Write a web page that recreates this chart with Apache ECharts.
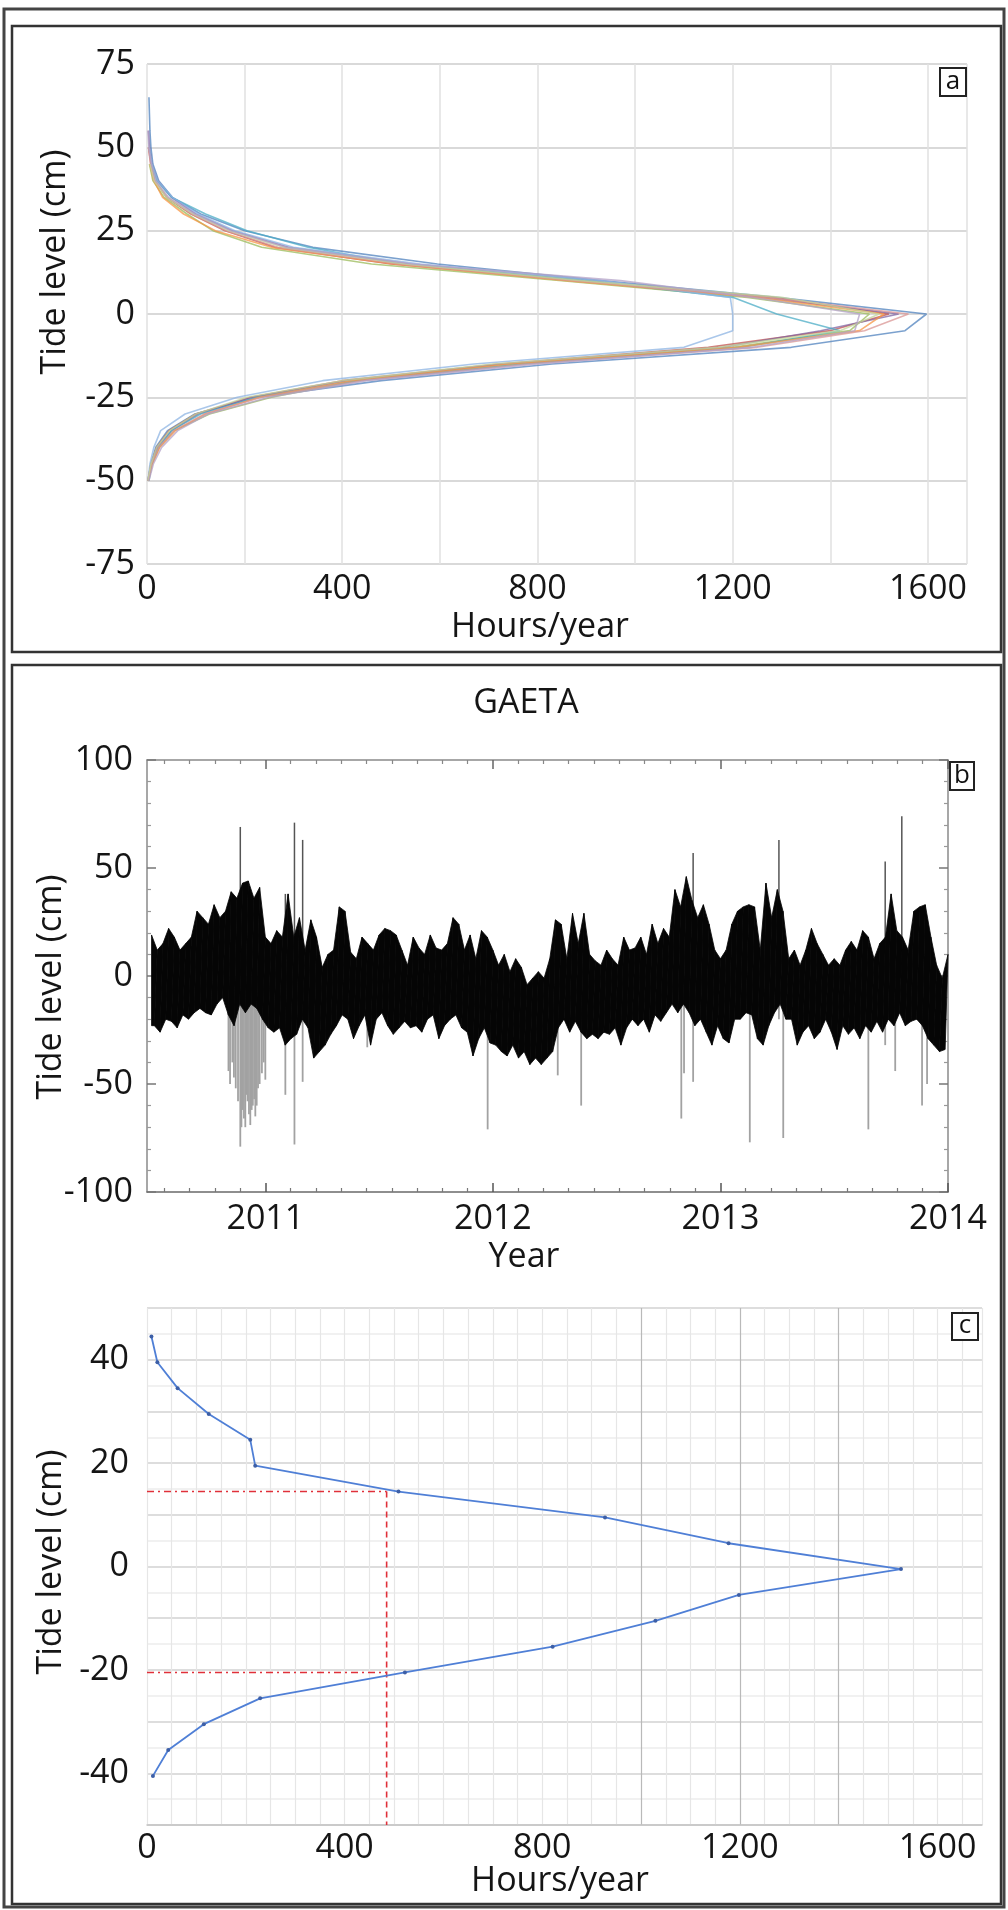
<!DOCTYPE html>
<html><head><meta charset="utf-8">
<script src="https://cdn.jsdelivr.net/npm/echarts@6/dist/echarts.min.js"></script>
<style>html,body{margin:0;padding:0;background:#fff}#c{width:1008px;height:1910px}</style>
</head><body><div id="c"></div>
<script>
// ---------------- Panel a : hours/year per 5-cm tide bin, one curve per year ----------------
const aLevels = [65,60,55,50,45,40,35,30,25,20,15,10,5,0,-5,-10,-15,-20,-25,-30,-35,-40,-45,-50];
const aS1  = [4,5,6,8,12,24,52,110,200,340,595,930,1290,1597,1553,1320,830,480,225,98,42,18,8,2];
const aS2  = [null,null,null,3,8,16,40,90,160,262,500,880,1280,1520,1400,1150,720,400,212,100,45,20,8,2];
const aS3  = [null,null,null,null,5,12,35,82,135,235,460,850,1230,1480,1440,1200,760,430,255,128,55,25,10,null];
const aS4  = [null,null,3,5,10,22,50,100,175,290,540,900,1260,1540,1380,1180,730,410,215,105,50,22,9,3];
const aS5  = [null,null,null,4,9,20,50,120,205,330,520,900,1200,1290,1420,1220,770,430,225,110,50,24,10,4];
const aS6  = [null,null,null,null,6,14,32,75,140,255,505,860,1250,1510,1460,1210,740,420,230,120,58,26,11,3];
const aS7  = [null,null,null,4,10,22,52,105,180,300,560,930,1195,1200,1200,1100,670,360,185,78,28,14,6,2];
const aS8  = [null,null,null,3,7,15,42,92,162,268,515,870,1270,1560,1470,1250,780,440,235,118,55,24,9,2];
const aS9  = [null,null,null,null,6,15,40,95,168,280,530,890,1300,1500,1420,1170,710,400,205,100,46,20,8,2];
const aS10 = [null,null,2,4,9,18,44,98,172,285,545,970,1240,1460,1450,1240,800,450,250,125,63,30,13,4];
const aSeries = [aS1,aS2,aS3,aS4,aS5,aS6,aS7,aS8,aS9,aS10];
const aColors = ['#4F81BD','#C0504D','#9BBB59','#8064A2','#4BACC6','#F79646','#8EB4E3','#D99694','#C3D69B','#B3A2C7'];
const aXLabels = [0,400,800,1200,1600];
const aYLabels = [-75,-50,-25,0,25,50,75];

// ---------------- Panel b : GAETA hourly tide record (envelope read per 0.025 yr) ----------------
const bTime = [2010.500,2010.525,2010.550,2010.575,2010.600,2010.625,2010.650,2010.675,2010.700,2010.725,2010.750,2010.775,2010.800,2010.825,2010.850,2010.875,2010.900,2010.925,2010.950,2010.975,
2011.000,2011.025,2011.050,2011.075,2011.100,2011.125,2011.150,2011.175,2011.200,2011.225,2011.250,2011.275,2011.300,2011.325,2011.350,2011.375,2011.400,2011.425,2011.450,2011.475,
2011.500,2011.525,2011.550,2011.575,2011.600,2011.625,2011.650,2011.675,2011.700,2011.725,2011.750,2011.775,2011.800,2011.825,2011.850,2011.875,2011.900,2011.925,2011.950,2011.975,
2012.000,2012.025,2012.050,2012.075,2012.100,2012.125,2012.150,2012.175,2012.200,2012.225,2012.250,2012.275,2012.300,2012.325,2012.350,2012.375,2012.400,2012.425,2012.450,2012.475,
2012.500,2012.525,2012.550,2012.575,2012.600,2012.625,2012.650,2012.675,2012.700,2012.725,2012.750,2012.775,2012.800,2012.825,2012.850,2012.875,2012.900,2012.925,2012.950,2012.975,
2013.000,2013.025,2013.050,2013.075,2013.100,2013.125,2013.150,2013.175,2013.200,2013.225,2013.250,2013.275,2013.300,2013.325,2013.350,2013.375,2013.400,2013.425,2013.450,2013.475,
2013.500,2013.525,2013.550,2013.575,2013.600,2013.625,2013.650,2013.675,2013.700,2013.725,2013.750,2013.775,2013.800,2013.825,2013.850,2013.875,2013.900,2013.925,2013.950,2013.975,
2014.000];
const bHigh = [19,12,15,22,18,12,15,18,30,27,24,33,27,30,39,36,43,44,36,41,
18,15,21,18,38,18,27,12,26,18,4,10,12,32,30,11,8,18,15,12,
19,22,21,19,12,5,18,13,10,19,13,12,15,27,24,12,19,8,21,18,
12,5,10,2,8,4,-4,-1,2,-1,8,26,24,8,29,15,29,10,7,5,
12,8,5,18,12,13,18,10,24,15,22,18,40,32,46,35,27,33,24,12,
8,12,24,30,32,33,32,12,43,27,40,30,8,12,5,12,22,15,10,5,
8,5,12,16,12,21,18,8,15,18,38,21,18,12,30,32,33,18,5,-1,
10];
const bLow = [-23,-26,-20,-21,-24,-18,-20,-17,-15,-17,-18,-13,-10,-18,-23,-13,-17,-13,-15,-20,
-24,-26,-24,-32,-29,-27,-20,-24,-38,-35,-32,-27,-23,-18,-20,-29,-23,-18,-32,-20,
-17,-23,-27,-24,-21,-24,-23,-26,-20,-18,-29,-23,-20,-18,-24,-26,-37,-29,-24,-31,
-32,-35,-37,-32,-38,-35,-41,-38,-41,-38,-35,-24,-20,-26,-21,-26,-29,-27,-29,-26,
-27,-24,-32,-24,-20,-23,-20,-26,-18,-21,-17,-13,-17,-13,-17,-23,-20,-26,-32,-23,
-29,-31,-20,-20,-17,-18,-29,-32,-23,-17,-13,-20,-20,-32,-26,-23,-29,-26,-20,-26,
-34,-23,-27,-24,-29,-23,-26,-21,-26,-20,-23,-17,-23,-21,-20,-23,-29,-32,-35,-34,
-26];
// isolated surge / spike records
const gTime = [2010.838,2010.845,2010.855,2010.862,2010.870,2010.880,2010.890,2010.895,2010.900,2010.906,2010.912,2010.917,2010.922,2010.928,2010.934,2010.940,2010.945,2010.951,2010.956,2010.962,2010.968,2010.975,2010.985,2010.993,2011.000,2011.088,2011.128,2011.164,2011.448,2011.977,2012.285,2012.388,2012.828,2012.840,2012.880,2013.129,2013.257,2013.276,2013.650,2013.724,2013.768,2013.797,2013.886,2013.908];
const gLow  = [-44,-50,-40,-47,-52,-58,-79,-70,-62,-66,-70,-55,-58,-64,-69,-62,-60,-57,-65,-60,-52,-50,-45,-40,-48,-55,-78,-49,-33,-71,-46,-60,-66,-45,-49,-77,-20,-75,-71,-32,-44,0,-60,-50];
const gHigh = [0,0,0,0,0,0,69,0,0,0,0,0,0,0,0,0,0,0,0,0,0,0,0,0,0,38,71,63,0,0,0,0,0,0,57,0,63,0,0,53,0,74,0,0];
const bXLabels = [2011,2012,2013,2014];
const bYLabels = [-100,-50,0,50,100];

// ---------------- Panel c : GAETA hours/year per 5-cm bin ----------------
const cLevels = [44.5,39.5,34.5,29.5,24.5,19.5,14.5,9.5,4.5,-0.5,-5.5,-10.5,-15.5,-20.5,-25.5,-30.5,-35.5,-40.5];
const cHours  = [9,21,62,125,209,219,509,927,1177,1526,1198,1029,821,522,229,115,43,12];
const cRefHours = 485;
const cRefHigh = 14.5;
const cRefLow = -20.5;
const cXLabels = [0,400,800,1200,1600];
const cYLabels = [-40,-20,0,20,40];

// ---------------- chart ----------------
const FONT = 'Open Sans';
const FS = 34;
const TXT = '#151515';
const chart = echarts.init(document.getElementById('c'), null, {renderer:'canvas'});

const lab = (arr) => (v) => (arr.indexOf(Math.round(v*1000)/1000) >= 0 ? String(v) : '');

// minor tick positions (styling only) for the year axis
const yearMinor = [];
for (let y = 2010; y < 2014; y++) for (let n = 1; n < 9; n++) { const v = y + n/9; if (v > 2010.48) yearMinor.push(+v.toFixed(4)); }

const cVColors = [];
for (let v = 0; v <= 1650; v += 50) cVColors.push((v===1000||v===1200||v===1400) ? '#b9b9b9' : '#e6e6e6');
cVColors.push('#e6e6e6');

const series = [];
aSeries.forEach((arr, i) => {
  const d = [];
  arr.forEach((h, j) => { if (h !== null) d.push([h, aLevels[j]]); });
  series.push({type:'line', name:'a'+(i+1), xAxisIndex:0, yAxisIndex:0, data:d, showSymbol:false,
    lineStyle:{color:aColors[i], width:1.6, opacity:0.75}, silent:true, animation:false});
});

// panel b : spikes (behind)
series.push({type:'custom', xAxisIndex:1, yAxisIndex:1, animation:false, silent:true, z:1,
  encode:{x:0, y:[1,2]},
  data: gTime.map((t,i)=>[t,gLow[i],gHigh[i]]),
  renderItem:(params, api) => {
    const t = api.value(0), lo = api.value(1), hi = api.value(2);
    const p0 = api.coord([t, lo]), p1 = api.coord([t, 0]), p2 = api.coord([t, hi]);
    return {type:'group', children:[
      {type:'line', shape:{x1:p0[0],y1:p0[1],x2:p1[0],y2:p1[1]}, style:{stroke:'#a2a2a2', lineWidth:1.8}},
      {type:'line', shape:{x1:p1[0],y1:p1[1],x2:p2[0],y2:p2[1]}, style:{stroke:'#555', lineWidth:1.5}}
    ]};
  }
});
// panel b : black record band (high at sample time, low half a step later)
series.push({type:'custom', xAxisIndex:1, yAxisIndex:1, animation:false, silent:true, z:3,
  encode:{x:0, y:1},
  data: bTime.map((t,i)=>[i]).slice(0, bTime.length-1),
  renderItem:(params, api) => {
    const i = api.value(0);
    const tA = bTime[i], tB = bTime[i+1], tM = (tA+tB)/2;
    const tPrevM = i > 0 ? (bTime[i-1]+tA)/2 : tA;
    const lowPrev = i > 0 ? bLow[i-1] : bLow[i];
    const pts = [
      api.coord([tA, bHigh[i]]), api.coord([tB, bHigh[i+1]]),
      api.coord([tM, bLow[i]]), api.coord([tPrevM, lowPrev])
    ];
    return {type:'polygon', shape:{points:pts}, style:{fill:'#050505', stroke:'#050505', lineWidth:0.8}};
  }
});

// panel c
series.push({type:'line', xAxisIndex:5, yAxisIndex:3, data:[[0,cRefHigh],[cRefHours,cRefHigh]], showSymbol:false, animation:false, silent:true,
  lineStyle:{color:'#e0303a', width:1.6, type:[7,4,2,4]}});
series.push({type:'line', xAxisIndex:5, yAxisIndex:3, data:[[0,cRefLow],[cRefHours,cRefLow]], showSymbol:false, animation:false, silent:true,
  lineStyle:{color:'#e0303a', width:1.6, type:[7,4,2,4]}});
series.push({type:'line', xAxisIndex:5, yAxisIndex:3, data:[[cRefHours,cRefHigh],[cRefHours,-50]], showSymbol:false, animation:false, silent:true,
  lineStyle:{color:'#e0303a', width:1.6, type:[6,4]}});
series.push({type:'line', xAxisIndex:5, yAxisIndex:3, data:cHours.map((h,i)=>[h,cLevels[i]]), animation:false, silent:true,
  symbol:'circle', symbolSize:4, itemStyle:{color:'#3d5fa6'},
  lineStyle:{color:'#4f7fd6', width:1.8}});

const tl = {fontFamily:FONT, fontSize:FS, color:TXT};
const G = (o) => Object.assign({silent:true, z:100}, o);

const option = {
  backgroundColor:'#fff',
  animation:false,
  textStyle:{fontFamily:FONT},
  grid:[
    {left:147, top:64, width:820, height:500},
    {left:147, top:760, width:801, height:432},
    {left:147, top:1308, width:835, height:517}
  ],
  xAxis:[
    {gridIndex:0, type:'value', min:0, max:1680, interval:200,
      axisLine:{show:false}, axisTick:{show:false},
      axisLabel:Object.assign({margin:8, formatter:lab(aXLabels)}, tl),
      splitLine:{show:true, lineStyle:{color:'#e1e1e1', width:1.5}}},
    {gridIndex:1, type:'value', min:2010.48, max:2014, position:'bottom',
      axisLine:{show:true, onZero:false, lineStyle:{color:'#6a6a6a', width:1.5}},
      axisTick:{show:true, inside:true, length:9, customValues:bXLabels, lineStyle:{color:'#555', width:1.5}},
      axisLabel:Object.assign({margin:10, customValues:bXLabels, showMinLabel:true, showMaxLabel:true, formatter:(v)=>String(Math.round(v))}, tl),
      splitLine:{show:false}},
    {gridIndex:1, type:'value', min:2010.48, max:2014, position:'bottom',
      axisLine:{show:false, onZero:false},
      axisTick:{show:true, inside:true, length:4, customValues:yearMinor, lineStyle:{color:'#777', width:1.2}},
      axisLabel:{show:false}, splitLine:{show:false}},
    {gridIndex:1, type:'value', min:2010.48, max:2014, position:'top',
      axisLine:{show:true, onZero:false, lineStyle:{color:'#8a8a8a', width:1.5}},
      axisTick:{show:true, inside:true, length:9, customValues:bXLabels, lineStyle:{color:'#666', width:1.5}},
      axisLabel:{show:false}, splitLine:{show:false}},
    {gridIndex:1, type:'value', min:2010.48, max:2014, position:'top',
      axisLine:{show:false, onZero:false},
      axisTick:{show:true, inside:true, length:4, customValues:yearMinor, lineStyle:{color:'#888', width:1.2}},
      axisLabel:{show:false}, splitLine:{show:false}},
    {gridIndex:2, type:'value', min:0, max:1690, interval:50,
      axisLine:{show:true, onZero:false, lineStyle:{color:'#c4c4c4', width:1.5}},
      axisTick:{show:false},
      axisLabel:Object.assign({margin:6, formatter:lab(cXLabels)}, tl),
      splitLine:{show:true, lineStyle:{color:cVColors, width:1.2}}}
  ],
  yAxis:[
    {gridIndex:0, type:'value', min:-75, max:75, interval:25,
      axisLine:{show:false}, axisTick:{show:false},
      axisLabel:Object.assign({margin:12, formatter:lab(aYLabels)}, tl),
      splitLine:{show:true, lineStyle:{color:'#d9d9d9', width:2}}},
    {gridIndex:1, type:'value', min:-100, max:100, interval:50, position:'left',
      axisLine:{show:true, onZero:false, lineStyle:{color:'#8a8a8a', width:1.5}},
      axisTick:{show:true, inside:true, length:9, lineStyle:{color:'#777', width:1.5}},
      minorTick:{show:true, splitNumber:5, length:4, lineStyle:{color:'#999', width:1.2}},
      axisLabel:Object.assign({margin:14, formatter:lab(bYLabels)}, tl),
      splitLine:{show:false}},
    {gridIndex:1, type:'value', min:-100, max:100, interval:50, position:'right',
      axisLine:{show:true, onZero:false, lineStyle:{color:'#8a8a8a', width:1.5}},
      axisTick:{show:true, inside:true, length:9, lineStyle:{color:'#777', width:1.5}},
      minorTick:{show:true, splitNumber:5, length:4, lineStyle:{color:'#999', width:1.2}},
      axisLabel:{show:false}, splitLine:{show:false}},
    {gridIndex:2, type:'value', min:-50, max:50, interval:5,
      axisLine:{show:false}, axisTick:{show:false},
      axisLabel:Object.assign({margin:18, formatter:lab(cYLabels)}, tl),
      splitLine:{show:true, lineStyle:{color:['#d2d2d2','#ececec'], width:1.5}}}
  ],
  series: series,
  graphic:[
    G({type:'rect', shape:{x:4, y:9, width:1000, height:1898}, style:{fill:'none', stroke:'#444', lineWidth:3}}),
    G({type:'rect', shape:{x:12, y:26, width:989, height:626}, style:{fill:'none', stroke:'#333', lineWidth:2.5}}),
    G({type:'rect', shape:{x:12, y:665, width:989, height:1239}, style:{fill:'none', stroke:'#333', lineWidth:2.5}}),
    // panel letters
    G({type:'rect', shape:{x:940, y:68, width:26, height:28}, style:{fill:'#fff', stroke:'#222', lineWidth:2}}),
    G({type:'text', x:953, y:82, style:{text:'a', font:'26px "Open Sans"', fill:'#111', align:'center', verticalAlign:'middle'}}),
    G({type:'rect', shape:{x:950, y:762, width:24, height:28}, style:{fill:'#fff', stroke:'#222', lineWidth:2}}),
    G({type:'text', x:962, y:776, style:{text:'b', font:'26px "Open Sans"', fill:'#111', align:'center', verticalAlign:'middle'}}),
    G({type:'rect', shape:{x:952, y:1313, width:26, height:27}, style:{fill:'#fff', stroke:'#222', lineWidth:2}}),
    G({type:'text', x:965, y:1326, style:{text:'c', font:'26px "Open Sans"', fill:'#111', align:'center', verticalAlign:'middle'}}),
    // axis titles
    G({type:'text', x:55, y:262, rotation:Math.PI/2, style:{text:'Tide level (cm)', font:FS+'px "Open Sans"', fill:TXT, align:'center', verticalAlign:'middle'}}),
    G({type:'text', x:540, y:627, style:{text:'Hours/year', font:FS+'px "Open Sans"', fill:TXT, align:'center', verticalAlign:'middle'}}),
    G({type:'text', x:526, y:703, style:{text:'GAETA', font:FS+'px "Open Sans"', fill:TXT, align:'center', verticalAlign:'middle'}}),
    G({type:'text', x:51, y:987, rotation:Math.PI/2, style:{text:'Tide level (cm)', font:FS+'px "Open Sans"', fill:TXT, align:'center', verticalAlign:'middle'}}),
    G({type:'text', x:524, y:1257, style:{text:'Year', font:FS+'px "Open Sans"', fill:TXT, align:'center', verticalAlign:'middle'}}),
    G({type:'text', x:51, y:1562, rotation:Math.PI/2, style:{text:'Tide level (cm)', font:FS+'px "Open Sans"', fill:TXT, align:'center', verticalAlign:'middle'}}),
    G({type:'text', x:560, y:1881, style:{text:'Hours/year', font:FS+'px "Open Sans"', fill:TXT, align:'center', verticalAlign:'middle'}})
  ]
};
chart.setOption(option);
</script>
</body></html>
